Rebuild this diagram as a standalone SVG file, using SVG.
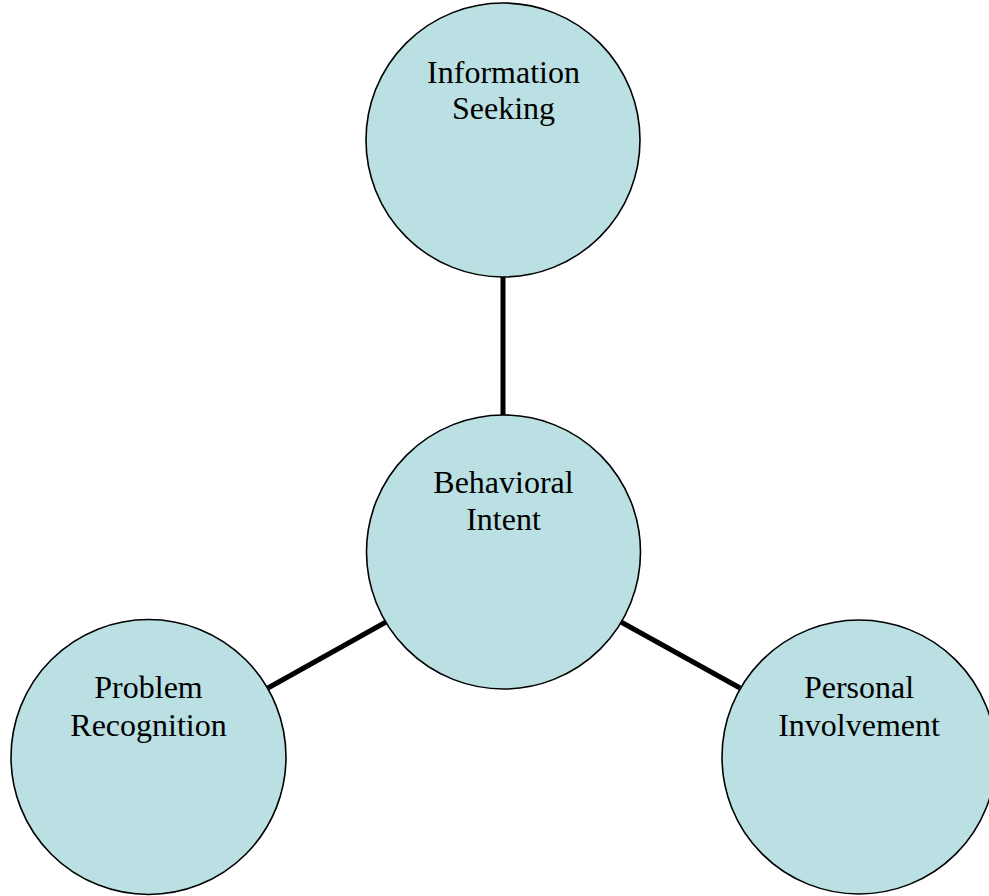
<svg xmlns="http://www.w3.org/2000/svg" width="989" height="896" viewBox="0 0 989 896">
<style>
.node circle{fill:#BAE0E3;stroke:#000;stroke-width:1.6}
.node text{font-family:"Liberation Serif","Times New Roman",serif;font-size:32px;fill:#000;text-anchor:middle}
.conn line{stroke:#000;stroke-width:5}
</style>
<rect width="989" height="896" fill="#fff"/>
<g id="connectors" class="conn">
<line x1="503" y1="277" x2="503" y2="416"/>
<line x1="268" y1="688" x2="386" y2="622"/>
<line x1="621" y1="622" x2="740" y2="688"/>
</g>
<g id="information-seeking" class="node">
<circle cx="503" cy="140" r="137"/>
<text x="503.5" y="83">Information</text>
<text x="503.5" y="119">Seeking</text>
</g>
<g id="behavioral-intent" class="node">
<circle cx="503.5" cy="552" r="137"/>
<text x="503.5" y="493">Behavioral</text>
<text x="503.5" y="530">Intent</text>
</g>
<g id="problem-recognition" class="node">
<circle cx="148.5" cy="757" r="137.5"/>
<text x="148.5" y="698">Problem</text>
<text x="148.5" y="736">Recognition</text>
</g>
<g id="personal-involvement" class="node">
<circle cx="859" cy="757" r="137"/>
<text x="859" y="698">Personal</text>
<text x="859" y="736">Involvement</text>
</g>
</svg>
